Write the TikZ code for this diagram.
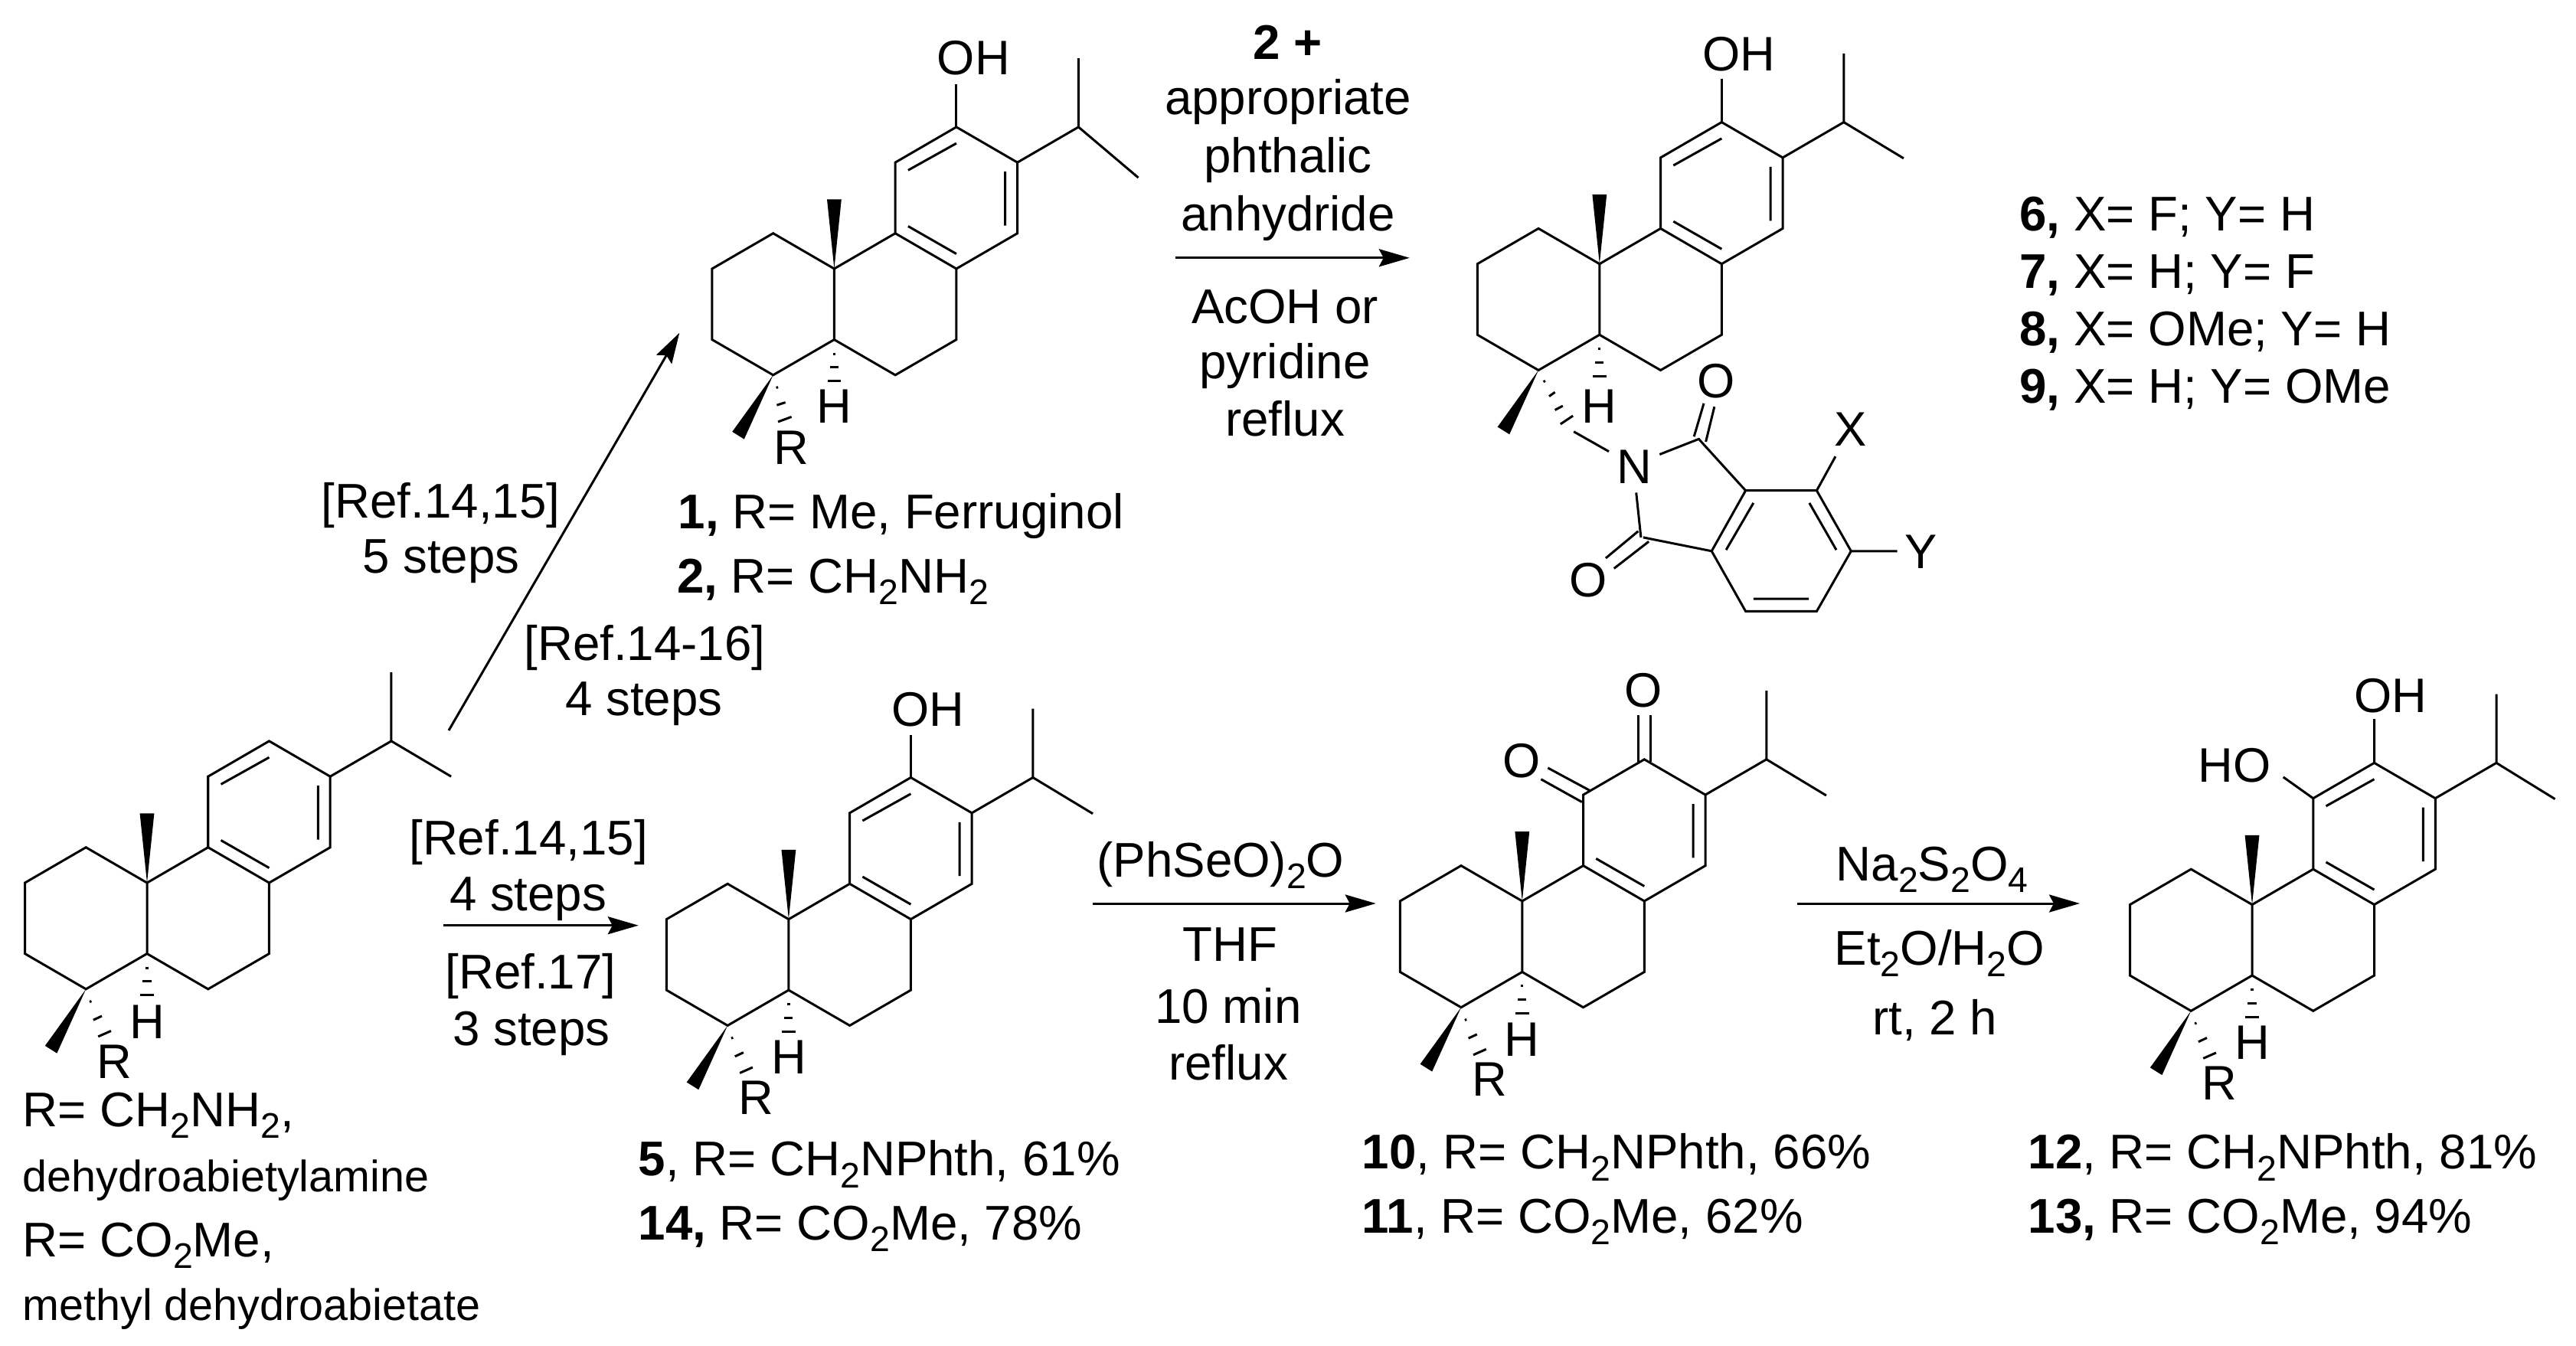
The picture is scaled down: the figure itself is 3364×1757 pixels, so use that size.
\documentclass[tikz,border=0pt]{standalone}
\usepackage{fontspec}
\setmainfont{Liberation Sans}
\usetikzlibrary{arrows.meta}
\newcommand{\lblfont}{\fontsize{18.1}{21}\selectfont}
\newcommand{\atomfont}{\fontsize{18}{21}\selectfont}
\newcommand{\smallfont}{\fontsize{16.35}{19}\selectfont}
\newcommand{\subs}[1]{\raisebox{-.24em}{\fontsize{13.2}{15}\selectfont #1}}
\tikzset{
  bond/.style={line width=.03cm},
  rxnarrow/.style={line width=.03cm, -{Stealth[length=.4cm,width=.23cm,inset=.06cm]}},
  lbl/.style={inner sep=0, font=\lblfont, anchor=base west},
  cond/.style={inner sep=0, font=\lblfont, anchor=base},
  atom/.style={inner sep=0, font=\atomfont},
  ringunit/.style={x=.797cm, y=.925cm}
}
% rings A-C, isopropyl, both wedges and the H at the ring fusion
\newcommand{\abiskel}[3]{
  \draw[bond] (0,0) -- (-1,.5) -- (-2,0) -- (-2,-1) -- (-1,-1.5) -- (0,-1) -- cycle;
  \draw[bond] (0,-1) -- (1,-1.5) -- (2,-1) -- (2,0) -- (1,.5) -- (0,0);
  \draw[bond] (1,.5) -- (1,1.5) -- (2,2) -- (3,1.5) -- (3,.5) -- (2,0);
  \draw[bond] (4,2.97) -- (4,2) -- (3,1.5) (4,2) -- #2;
  \draw[bond] (1.21,.6) -- (2,.21) (2.8,1.37) -- (2.8,.61);
  \fill (0,0) -- (-.118,.98) -- (.118,.98) -- cycle;
  \fill (-1,-1.5) -- (-1.67,-2.3) -- (-1.475,-2.405) -- cycle;
  \draw[bond] (-.02,-1.2) -- (.02,-1.2) (-.07,-1.39) -- (.07,-1.39) (-.11,-1.585) -- (.11,-1.585);
  \node[atom] (#1H) at (0,#3) {H};
}
\newcommand{\rhashed}[1]{
  \draw[bond] (-.94,-1.68) -- (-.91,-1.67) (-.88,-1.936) -- (-.74,-1.88) (-.8,-2.17) -- (-.59,-2.09);
  \node[atom] (#1R) at (-.53,-2.52) {R};
}
\newcommand{\areneup}{\draw[bond] (1.21,1.39) -- (2,1.77);}
\begin{document}
\begin{tikzpicture}[x=.01cm, y=-.01cm]
  \useasboundingbox (0,0) rectangle (3364,1757);

  % dehydroabietic start
  \begin{scope}[shift={(192,1153)}, ringunit]
    \abiskel{da}{(4.98,1.5)}{-1.96}
    \rhashed{da}
    \areneup
  \end{scope}
  \node[lbl] (daA) at (29,1471.6) {R= CH\subs{2}NH\subs{2},};
  \node[lbl, font=\smallfont] (daB) at (29,1556) {dehydroabietylamine};
  \node[lbl] (daC) at (29,1641) {R= CO\subs{2}Me,};
  \node[lbl, font=\smallfont] (daD) at (29,1724) {methyl dehydroabietate};

  % ferruginol
  \begin{scope}[shift={(1089.4,351)}, ringunit]
    \abiskel{fe}{(4.98,1.285)}{-1.945}
    \draw[bond] (-.95,-1.68) -- (-.92,-1.67) (-.94,-1.925) -- (-.8,-1.886) (-.92,-2.16) -- (-.7,-2.09);
    \node[atom] (feR) at (-.7,-2.52) {R};
    \areneup
    \draw[bond] (2,2) -- (2,2.6);
    \node[atom] (feOH) at (2.28,2.97) {OH};
  \end{scope}
  \node[lbl] (feA) at (885,690) {\textbf{1,} R= Me, Ferruginol};
  \node[lbl] (feB) at (883.4,774.5) {\textbf{2,} R= CH\subs{2}NH\subs{2}};

  % phthalimide product
  \begin{scope}[shift={(2088.8,344.7)}, ringunit]
    \abiskel{ph}{(4.98,1.49)}{-2.015}
    \areneup
    \draw[bond] (2,2) -- (2,2.61);
    \node[atom] (phOH) at (2.28,2.96) {OH};
  \end{scope}
  \draw[bond] (2015.5,498.6) -- (2018,497.5) (2023,517.6) -- (2030.6,512.2)
    (2030.6,535.5) -- (2040.8,530.1) (2037.8,553.9) -- (2054.1,543.1);
  \draw[bond] (2055.1,563.7) -- (2101,589.7);
  \node[atom] (phN) at (2134.2,609.8) {N};
  \draw[bond] (2167.3,593.5) -- (2218.4,573.4) -- (2279.6,640.7) -- (2372.4,640.7) -- (2417.3,719.8)
    -- (2372.4,798.4) -- (2279.6,798.4) -- (2235.2,719.8) -- (2145.9,701.9) (2136.7,643.4) -- (2142.9,701.9);
  \draw[bond] (2235.2,719.8) -- (2279.6,640.7);
  \draw[bond] (2212.2,570.2) -- (2225,526.8) (2227.6,577) -- (2238.8,531.2);
  \draw[bond] (2139.3,693.8) -- (2096.9,729) (2153.1,707.3) -- (2107.7,742.5);
  \draw[bond] (2289.8,656.9) -- (2254.1,718.2) (2362.8,656.9) -- (2398,718.2) (2289.8,782.1) -- (2362.2,782.1);
  \draw[bond] (2372.4,640.7) -- (2396.9,596.2) (2417.3,719.8) -- (2477.6,719.8);
  \node[atom] (phOa) at (2241.3,497.6) {O};
  \node[atom] (phOb) at (2074.5,757.7) {O};
  \node[atom] (phX) at (2416.3,561) {X};
  \node[atom] (phY) at (2508.2,720.9) {Y};

  \node[lbl] (lsA) at (2636.8,301.7) {\textbf{6,} X= F; Y= H};
  \node[lbl] (lsB) at (2636.8,376.7) {\textbf{7,} X= H; Y= F};
  \node[lbl] (lsC) at (2636.8,451.7) {\textbf{8,} X= OMe; Y= H};
  \node[lbl] (lsD) at (2636.8,526.7) {\textbf{9,} X= H; Y= OMe};

  % lower row
  \begin{scope}[shift={(1029.9,1200.6)}, ringunit]
    \abiskel{ca}{(4.98,1.49)}{-1.95}
    \rhashed{ca}
    \areneup
    \draw[bond] (2,2) -- (2,2.6);
    \node[atom] (caOH) at (2.28,2.96) {OH};
  \end{scope}
  \node[lbl] (caA) at (833,1535.7) {\textbf{5}, R= CH\subs{2}NPhth, 61\%};
  \node[lbl] (caB) at (833,1619) {\textbf{14,} R= CO\subs{2}Me, 78\%};

  \begin{scope}[shift={(1987.8,1176.9)}, ringunit]
    \abiskel{qu}{(4.98,1.49)}{-1.95}
    \rhashed{qu}
    \draw[bond] (1.9,1.97) -- (1.9,2.62) (2.1,1.97) -- (2.1,2.62);
    \draw[bond] (.978,1.398) -- (.308,1.72) (1.1,1.564) -- (.42,1.88);
    \node[atom] (quOa) at (1.985,2.97) {O};
    \node[atom] (quOb) at (-.015,1.98) {O};
  \end{scope}
  \node[lbl] (quA) at (1778,1526.7) {\textbf{10}, R= CH\subs{2}NPhth, 66\%};
  \node[lbl] (quB) at (1778,1610) {\textbf{11}, R= CO\subs{2}Me, 62\%};

  \begin{scope}[shift={(2941,1181.5)}, ringunit]
    \abiskel{di}{(4.96,1.49)}{-1.95}
    \rhashed{di}
    \areneup
    \draw[bond] (2,2) -- (2,2.62) (1,1.5) -- (.51,1.8);
    \node[atom] (diOH) at (2.27,2.95) {OH};
    \node[atom] (diHO) at (-.29,1.965) {HO};
  \end{scope}
  \node[lbl] (diA) at (2648,1526.7) {\textbf{12}, R= CH\subs{2}NPhth, 81\%};
  \node[lbl] (diB) at (2648,1610) {\textbf{13,} R= CO\subs{2}Me, 94\%};

  % arrows
  \coordinate (upS) at (586,954);
  \coordinate (upE) at (887.3,434.7);
  \coordinate (topS) at (1534.8,336.8);
  \coordinate (topE) at (1840.8,336.8);
  \coordinate (oneS) at (578.7,1208.7);
  \coordinate (oneE) at (833.8,1208.7);
  \coordinate (twoS) at (1426.7,1180);
  \coordinate (twoE) at (1796.7,1180);
  \coordinate (threeS) at (2346.7,1180);
  \coordinate (threeE) at (2716,1180);
  \draw[rxnarrow] (upS) -- (upE);
  \draw[rxnarrow] (topS) -- (topE);
  \draw[rxnarrow] (oneS) -- (oneE);
  \draw[rxnarrow] (twoS) -- (twoE);
  \draw[rxnarrow] (threeS) -- (threeE);

  % conditions
  \node[cond] (upA) at (575.6,676.5) {[Ref.14,15]};
  \node[cond] (upB) at (576,748) {5 steps};
  \node[cond] (upC) at (842,862.8) {[Ref.14-16]};
  \node[cond] (upD) at (841,934) {4 steps};
  \node[cond] (topA) at (1682,77) {\textbf{2 +}};
  \node[cond] (topB) at (1682,149.4) {appropriate};
  \node[cond] (topC) at (1682,225.3) {phthalic};
  \node[cond] (topD) at (1682,301.6) {anhydride};
  \node[cond] (topF) at (1678,422) {AcOH or};
  \node[cond] (topG) at (1678,494) {pyridine};
  \node[cond] (topH) at (1678,569) {reflux};
  \node[cond] (oneA) at (690,1116.3) {[Ref.14,15]};
  \node[cond] (oneB) at (689.6,1189) {4 steps};
  \node[cond] (oneC) at (693,1291) {[Ref.17]};
  \node[cond] (oneD) at (694,1365) {3 steps};
  \node[cond] (twoA) at (1594,1145) {(PhSeO)\subs{2}O};
  \node[cond] (twoB) at (1606,1255) {THF};
  \node[cond] (twoC) at (1604,1336.7) {10 min};
  \node[cond] (twoD) at (1604,1410) {reflux};
  \node[cond] (threeA) at (2523,1150) {Na\subs{2}S\subs{2}O\subs{4}};
  \node[cond] (threeB) at (2533,1260) {Et\subs{2}O/H\subs{2}O};
  \node[cond] (threeC) at (2527,1351.7) {rt, 2 h};
\end{tikzpicture}
\end{document}
